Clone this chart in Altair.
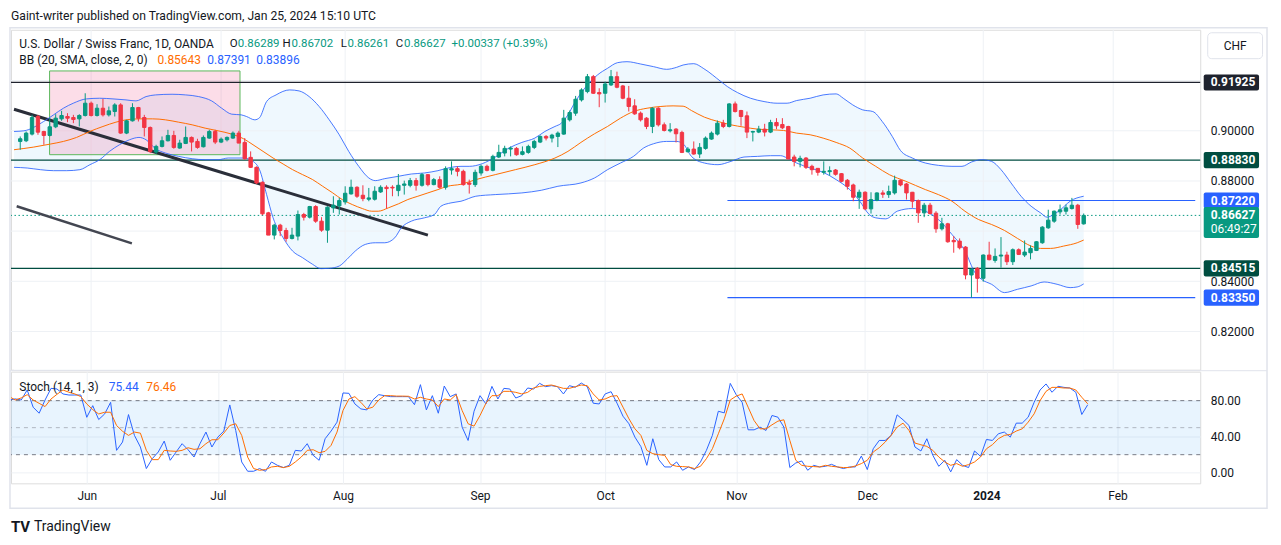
import altair as alt
import pandas as pd

# ------------------------------------------------------------------ data
# daily candles, bar 0 = 16 May 2023 ... bar 180 = 25 Jan 2024 (weekdays)
opens = [
    0.89575, 0.89601, 0.89866, 0.90568, 0.89972, 0.89813, 0.90157, 0.90475, 0.90568, 0.90528,
    0.90475, 0.90608, 0.91098, 0.90608, 0.90899, 0.90634, 0.90767, 0.91031, 0.89906, 0.90396,
    0.90925, 0.90528, 0.90131, 0.89151, 0.89376, 0.89601, 0.89813, 0.89310, 0.89495, 0.89734,
    0.89575, 0.89363, 0.89707, 0.89972, 0.89548, 0.89641, 0.89707, 0.89906, 0.89536, 0.88940,
    0.88542, 0.87946, 0.86728, 0.85841, 0.86238, 0.86026, 0.85708, 0.85801, 0.86662, 0.86556,
    0.86980, 0.86397, 0.86039, 0.86927, 0.87006, 0.87165, 0.87483, 0.87748, 0.87430, 0.87271,
    0.87271, 0.87562, 0.87748, 0.87748, 0.87615, 0.87827, 0.87827, 0.88013, 0.87827, 0.88251,
    0.87854, 0.88052, 0.87748, 0.88436, 0.88489, 0.88383, 0.87920, 0.87853, 0.88317, 0.88582,
    0.88423, 0.88953, 0.89112, 0.89270, 0.89297, 0.89059, 0.89138, 0.89337, 0.89549, 0.89774,
    0.89708, 0.89774, 0.89866, 0.90436, 0.90701, 0.91230, 0.91562, 0.92157, 0.91522, 0.91495,
    0.91826, 0.92157, 0.91787, 0.91297, 0.90992, 0.90701, 0.90502, 0.90171, 0.90899, 0.90237,
    0.89999, 0.90065, 0.89933, 0.89164, 0.89270, 0.89072, 0.89297, 0.89668, 0.89866, 0.90303,
    0.90171, 0.91071, 0.90807, 0.90595, 0.89946, 0.89946, 0.90065, 0.89946, 0.90330, 0.90250,
    0.90171, 0.88953, 0.88780, 0.88913, 0.88582, 0.88502, 0.88343, 0.88370, 0.88436, 0.88290,
    0.88026, 0.87840, 0.87350, 0.87549, 0.86887, 0.87231, 0.87522, 0.87456, 0.87522, 0.88026,
    0.87880, 0.87549, 0.87218, 0.86728, 0.87033, 0.86715, 0.86092, 0.86291, 0.85629, 0.85602,
    0.85364, 0.84252, 0.84517, 0.84119, 0.85046, 0.84834, 0.85006, 0.85046, 0.84781, 0.85258,
    0.85046, 0.85139, 0.85232, 0.85536, 0.86132, 0.86397, 0.86768, 0.86794, 0.86900, 0.87033,
    0.86289,
]
highs = [
    0.89773, 0.89972, 0.90634, 0.90634, 0.89998, 0.90502, 0.90661, 0.90793, 0.90700, 0.90634,
    0.90661, 0.91495, 0.91164, 0.91058, 0.91270, 0.90965, 0.91098, 0.91098, 0.90435, 0.91098,
    0.90952, 0.90634, 0.90171, 0.89442, 0.89773, 0.90038, 0.89998, 0.89641, 0.90171, 0.89773,
    0.89681, 0.89813, 0.90038, 0.90038, 0.89734, 0.89773, 0.89972, 0.89998, 0.89708, 0.89178,
    0.88582, 0.87986, 0.86768, 0.86291, 0.86291, 0.86132, 0.86132, 0.86821, 0.86728, 0.87006,
    0.87033, 0.86556, 0.86993, 0.87390, 0.87324, 0.87787, 0.88052, 0.87787, 0.87827, 0.87721,
    0.87787, 0.87827, 0.87827, 0.87827, 0.88277, 0.88013, 0.88119, 0.88119, 0.88317, 0.88277,
    0.88119, 0.88185, 0.88582, 0.88781, 0.88582, 0.88449, 0.88052, 0.88449, 0.88648, 0.88648,
    0.89045, 0.89443, 0.89403, 0.89376, 0.89350, 0.89376, 0.89443, 0.89641, 0.89814, 0.89827,
    0.89880, 0.89972, 0.90833, 0.90807, 0.91389, 0.91694, 0.92263, 0.92224, 0.91694, 0.91959,
    0.92422, 0.92356, 0.91826, 0.91787, 0.91257, 0.90767, 0.90542, 0.90939, 0.90939, 0.90330,
    0.90303, 0.90105, 0.90000, 0.89350, 0.89575, 0.89509, 0.89774, 0.89972, 0.90409, 0.90436,
    0.91098, 0.91164, 0.90833, 0.90767, 0.89999, 0.90197, 0.90277, 0.90436, 0.90502, 0.90502,
    0.90197, 0.89045, 0.89006, 0.88953, 0.88648, 0.88516, 0.88780, 0.88582, 0.88476, 0.88317,
    0.88078, 0.87893, 0.87655, 0.87588, 0.87549, 0.87549, 0.87628, 0.87814, 0.88211, 0.88052,
    0.87920, 0.87562, 0.87258, 0.87125, 0.87125, 0.86794, 0.86530, 0.86331, 0.85801, 0.85708,
    0.85404, 0.84517, 0.84570, 0.85073, 0.85576, 0.85311, 0.85761, 0.85179, 0.85311, 0.85311,
    0.85629, 0.85430, 0.85602, 0.86198, 0.86853, 0.86821, 0.87059, 0.87059, 0.87324, 0.87086,
    0.86702,
]
lows = [
    0.89244, 0.89548, 0.89813, 0.89840, 0.89442, 0.89773, 0.90104, 0.90396, 0.90343, 0.90303,
    0.90171, 0.90568, 0.90568, 0.90568, 0.90568, 0.90568, 0.90568, 0.89879, 0.89866, 0.90369,
    0.90369, 0.89773, 0.89111, 0.89071, 0.89336, 0.89575, 0.89283, 0.89283, 0.89469, 0.89177,
    0.89283, 0.89336, 0.89681, 0.89469, 0.89508, 0.89575, 0.89681, 0.89508, 0.88847, 0.88516,
    0.87880, 0.86635, 0.85841, 0.85669, 0.85801, 0.85576, 0.85669, 0.85629, 0.86423, 0.86503,
    0.86331, 0.85973, 0.85536, 0.86728, 0.86662, 0.87059, 0.87456, 0.87324, 0.87191, 0.87191,
    0.87218, 0.87523, 0.86900, 0.87390, 0.87390, 0.87456, 0.87748, 0.87615, 0.87774, 0.87787,
    0.87827, 0.87695, 0.87655, 0.88251, 0.88185, 0.87814, 0.87496, 0.87761, 0.88211, 0.88383,
    0.88383, 0.88913, 0.88979, 0.88979, 0.89006, 0.89019, 0.89085, 0.89270, 0.89509, 0.89615,
    0.89535, 0.89350, 0.89840, 0.90370, 0.90595, 0.91164, 0.91495, 0.91469, 0.90939, 0.91124,
    0.91787, 0.91694, 0.91257, 0.90767, 0.90635, 0.90370, 0.90065, 0.89906, 0.90171, 0.89972,
    0.89933, 0.89535, 0.89111, 0.89138, 0.89045, 0.88913, 0.89244, 0.89641, 0.89813, 0.90105,
    0.90131, 0.90727, 0.90197, 0.89707, 0.89575, 0.89906, 0.89774, 0.89906, 0.90065, 0.90065,
    0.88873, 0.88582, 0.88542, 0.88476, 0.88251, 0.88211, 0.88251, 0.88211, 0.88211, 0.87946,
    0.87655, 0.87191, 0.86887, 0.86834, 0.86701, 0.87191, 0.87324, 0.87324, 0.87456, 0.87787,
    0.87258, 0.86927, 0.86331, 0.86556, 0.86662, 0.85934, 0.86026, 0.85536, 0.85139, 0.85271,
    0.84079, 0.83351, 0.83550, 0.83987, 0.84834, 0.84742, 0.84543, 0.84649, 0.84649, 0.85046,
    0.84967, 0.84874, 0.85205, 0.85496, 0.86092, 0.86331, 0.86662, 0.86662, 0.86860, 0.86092,
    0.86261,
]
closes = [
    0.89681, 0.89906, 0.90528, 0.89945, 0.89813, 0.90157, 0.90502, 0.90608, 0.90502, 0.90449,
    0.90608, 0.91098, 0.90608, 0.90899, 0.90634, 0.90793, 0.91031, 0.89906, 0.90396, 0.90925,
    0.90502, 0.90131, 0.89177, 0.89376, 0.89601, 0.89813, 0.89336, 0.89508, 0.89734, 0.89548,
    0.89336, 0.89734, 0.89972, 0.89548, 0.89667, 0.89734, 0.89906, 0.89508, 0.88887, 0.88542,
    0.87920, 0.86688, 0.85841, 0.86238, 0.86026, 0.85708, 0.85841, 0.86662, 0.86556, 0.86980,
    0.86397, 0.86039, 0.86953, 0.87033, 0.87218, 0.87509, 0.87748, 0.87390, 0.87297, 0.87324,
    0.87589, 0.87748, 0.87695, 0.87721, 0.87827, 0.87880, 0.88013, 0.87827, 0.88251, 0.87854,
    0.88052, 0.87748, 0.88489, 0.88489, 0.88383, 0.87853, 0.87867, 0.88343, 0.88582, 0.88423,
    0.88979, 0.89138, 0.89297, 0.89310, 0.89045, 0.89165, 0.89376, 0.89575, 0.89774, 0.89708,
    0.89827, 0.89906, 0.90502, 0.90727, 0.91257, 0.91628, 0.92157, 0.91495, 0.91469, 0.91866,
    0.92157, 0.91734, 0.91297, 0.90966, 0.90674, 0.90436, 0.90171, 0.90899, 0.90237, 0.90012,
    0.90039, 0.89880, 0.89138, 0.89270, 0.89072, 0.89337, 0.89707, 0.89906, 0.90303, 0.90171,
    0.91071, 0.90767, 0.90568, 0.89946, 0.89972, 0.90065, 0.89946, 0.90330, 0.90197, 0.90118,
    0.88873, 0.88780, 0.88900, 0.88542, 0.88449, 0.88343, 0.88383, 0.88410, 0.88264, 0.87986,
    0.87787, 0.87350, 0.87549, 0.86887, 0.87257, 0.87522, 0.87469, 0.87575, 0.88026, 0.87840,
    0.87523, 0.87192, 0.86728, 0.87033, 0.86702, 0.86092, 0.86291, 0.85576, 0.85576, 0.85337,
    0.84252, 0.84477, 0.84119, 0.85046, 0.84861, 0.84993, 0.85046, 0.84781, 0.85258, 0.85073,
    0.85165, 0.85311, 0.85576, 0.86159, 0.86437, 0.86794, 0.86847, 0.86927, 0.87033, 0.86265,
    0.86627,
]

# Bollinger band (20, 2) lines at bar positions
bb_upper_at = [
    -1.05, 0.62, 3.96, 5.64, 7.31, 8.98, 11.2, 13.45, 15.7, 17.9,
    19.6, 21.3, 22.9, 25.7, 28.0, 30.2, 32.4, 34.1, 35.8, 37.4,
    38.3, 39.7, 40.5, 41.7, 43.3, 45.6, 47.2, 48.9, 50.6, 52.3,
    54.0, 55.6, 57.3, 59.0, 60.1, 61.7, 64.0, 66.2, 68.4, 70.7,
    72.9, 74.6, 76.0, 78.2, 80.4, 82.7, 84.9, 87.1, 88.8, 90.5,
    91.6, 92.7, 93.8, 94.9, 96.0, 97.7, 99.4, 101.1, 102.7, 105.0,
    107.2, 109.4, 111.1, 112.2, 114.0, 115.7, 118.6, 119.7, 121.4, 123.6,
    125.9, 128.1, 129.8, 131.4, 133.7, 135.9, 138.1, 139.3, 140.9, 142.6,
    144.3, 145.9, 147.6, 149.0, 151.0, 153.2, 155.4, 157.7, 159.4, 161.0,
    162.7, 164.4, 166.0, 167.7, 169.4, 171.1, 172.7, 173.8, 174.9, 176.1,
    177.7, 180.0,
]
bb_upper = [
    0.89972, 0.89998, 0.90369, 0.90634, 0.90899, 0.91098, 0.91270, 0.91296, 0.91270, 0.91230,
    0.91190, 0.91362, 0.91429, 0.91455, 0.91429, 0.91362, 0.91190, 0.90899, 0.90661, 0.90634,
    0.90568, 0.90436, 0.90520, 0.91164, 0.91429, 0.91628, 0.91588, 0.91363, 0.90966, 0.90436,
    0.89840, 0.89178, 0.88582, 0.88119, 0.88013, 0.88092, 0.88185, 0.88277, 0.88317, 0.88410,
    0.88542, 0.88582, 0.88582, 0.88688, 0.88953, 0.89310, 0.89535, 0.89708, 0.89972, 0.90171,
    0.90303, 0.90635, 0.91098, 0.91495, 0.91826, 0.92224, 0.92489, 0.92714, 0.92753, 0.92661,
    0.92555, 0.92449, 0.92528, 0.92621, 0.92674, 0.92475, 0.91959, 0.91760, 0.91522, 0.91297,
    0.91164, 0.91098, 0.91098, 0.91204, 0.91297, 0.91429, 0.91469, 0.91297, 0.91032, 0.90833,
    0.90767, 0.90370, 0.89774, 0.89210, 0.88913, 0.88715, 0.88622, 0.88582, 0.88582, 0.88754,
    0.88847, 0.88781, 0.88450, 0.87920, 0.87390, 0.86993, 0.86728, 0.86556, 0.86662, 0.86861,
    0.87192, 0.87391,
]
bb_mid_at = [
    -1.05, 2.29, 5.08, 7.31, 9.54, 11.77, 14.0, 16.2, 17.9, 20.1,
    22.4, 24.6, 26.8, 29.1, 31.3, 33.5, 35.8, 37.8, 39.4, 41.1,
    42.8, 44.5, 46.1, 47.8, 49.5, 51.2, 52.9, 54.5, 56.2, 57.9,
    59.5, 60.6, 62.3, 64.0, 65.6, 67.3, 69.0, 70.7, 72.3, 74.6,
    77.1, 80.4, 83.8, 87.1, 90.5, 92.7, 94.9, 97.2, 99.4, 101.6,
    103.8, 106.1, 108.3, 110.5, 112.2, 113.6, 115.8, 118.1, 120.3, 122.5,
    124.8, 127.0, 129.2, 131.4, 133.7, 135.9, 138.1, 140.4, 142.6, 144.8,
    147.1, 149.9, 153.2, 155.4, 157.7, 159.9, 162.2, 164.4, 166.6, 168.8,
    171.1, 172.7, 174.4, 176.6, 178.9, 180.0,
]
bb_mid = [
    0.89244, 0.89350, 0.89469, 0.89575, 0.89734, 0.89972, 0.90171, 0.90343, 0.90435, 0.90475,
    0.90475, 0.90435, 0.90343, 0.90237, 0.90104, 0.89998, 0.89866, 0.89681, 0.89443, 0.89178,
    0.88913, 0.88675, 0.88450, 0.88251, 0.88052, 0.87787, 0.87523, 0.87258, 0.87059, 0.86900,
    0.86794, 0.86794, 0.86927, 0.87086, 0.87258, 0.87390, 0.87523, 0.87655, 0.87787, 0.87867,
    0.88052, 0.88251, 0.88449, 0.88648, 0.88913, 0.89178, 0.89535, 0.89880, 0.90171, 0.90502,
    0.90767, 0.90899, 0.90966, 0.90992, 0.90979, 0.90807, 0.90542, 0.90370, 0.90237, 0.90144,
    0.90065, 0.90038, 0.90012, 0.89906, 0.89840, 0.89707, 0.89535, 0.89310, 0.88913, 0.88582,
    0.88251, 0.87986, 0.87655, 0.87456, 0.87192, 0.86794, 0.86463, 0.86265, 0.86026, 0.85708,
    0.85404, 0.85311, 0.85311, 0.85404, 0.85536, 0.85643,
]
bb_lower_at = [
    -1.05, 1.18, 3.41, 5.64, 7.87, 10.1, 11.8, 13.45, 15.1, 16.8,
    18.5, 20.1, 21.3, 22.9, 24.6, 26.8, 29.1, 31.3, 33.5, 35.2,
    37.8, 39.4, 40.5, 41.7, 42.8, 44.5, 46.1, 47.8, 49.5, 50.9,
    52.3, 54.0, 55.3, 56.7, 58.4, 60.1, 61.7, 63.4, 64.5, 66.2,
    68.4, 70.1, 71.2, 72.9, 74.6, 77.1, 80.4, 84.9, 88.2, 91.0,
    94.9, 97.2, 99.4, 101.6, 103.8, 105.5, 107.2, 109.4, 111.1, 112.2,
    113.6, 115.8, 118.1, 120.3, 122.5, 124.8, 127.0, 128.7, 129.8, 131.4,
    133.7, 135.9, 138.1, 140.4, 142.1, 143.7, 144.8, 146.5, 148.5, 151.0,
    153.2, 155.4, 157.7, 159.9, 161.6, 162.7, 164.4, 166.6, 168.8, 171.1,
    173.3, 175.5, 177.7, 178.9, 180.0,
]
bb_lower = [
    0.88542, 0.88515, 0.88449, 0.88409, 0.88409, 0.88449, 0.88648, 0.88846, 0.89177, 0.89442,
    0.89641, 0.89734, 0.89641, 0.89283, 0.89111, 0.88979, 0.88886, 0.88846, 0.88846, 0.88913,
    0.88913, 0.88781, 0.88450, 0.87456, 0.86529, 0.85735, 0.85205, 0.84940, 0.84675, 0.84503,
    0.84516, 0.84609, 0.84874, 0.85205, 0.85470, 0.85536, 0.85536, 0.85735, 0.86132, 0.86397,
    0.86529, 0.86662, 0.86993, 0.87125, 0.87191, 0.87390, 0.87456, 0.87522, 0.87628, 0.87787,
    0.87920, 0.88118, 0.88449, 0.88714, 0.88979, 0.89310, 0.89483, 0.89575, 0.89575, 0.89483,
    0.88979, 0.88714, 0.88648, 0.88780, 0.88953, 0.88979, 0.89006, 0.89006, 0.88913, 0.88714,
    0.88516, 0.88343, 0.88052, 0.87655, 0.87191, 0.86662, 0.86529, 0.86489, 0.86800, 0.86900,
    0.86794, 0.86463, 0.85867, 0.85205, 0.84344, 0.84079, 0.83881, 0.83550, 0.83682, 0.83815,
    0.83974, 0.83881, 0.83748, 0.83775, 0.83896,
]

# Stochastic (14, 1, 3): %K and %D for bars -1 ... 180
stoch_k = [
    80.7, 81.9, 80.7, 91.8, 72.7, 66.0, 80.7, 93.6, 92.9, 87.4,
    86.2, 86.2, 86.2, 61.5, 74.4, 59.0, 65.2, 78.1, 24.8, 34.0,
    64.5, 41.4, 28.5, 4.6, 15.6, 23.0, 35.1, 13.8, 23.0, 32.2,
    25.5, 17.4, 32.2, 45.1, 28.5, 39.5, 46.2, 75.2, 46.9, 11.9,
    1.6, 1.6, 4.6, 1.6, 11.9, 8.2, 5.7, 8.2, 24.8, 24.1,
    32.2, 19.3, 13.8, 37.7, 46.2, 56.1, 88.5, 88.1, 76.3, 70.8,
    69.7, 80.7, 86.6, 85.5, 84.4, 84.4, 84.4, 84.4, 75.5, 97.7,
    69.7, 85.5, 66.0, 96.2, 84.4, 87.4, 50.6, 35.8, 68.2, 85.5,
    76.3, 95.8, 81.8, 93.6, 92.9, 82.9, 85.5, 94.0, 92.9, 99.2,
    95.5, 96.6, 95.5, 87.4, 96.6, 94.8, 99.5, 95.5, 77.1, 76.3,
    87.4, 89.9, 77.1, 62.7, 54.3, 39.5, 29.0, 8.2, 37.7, 14.5,
    6.4, 6.4, 11.9, 2.7, 6.4, 3.5, 11.9, 24.8, 41.4, 68.2,
    66.4, 99.1, 86.6, 78.1, 47.6, 47.6, 50.6, 46.9, 63.5, 61.6,
    50.6, 5.7, 10.8, 13.0, 2.7, 8.2, 6.4, 7.1, 9.3, 6.4,
    4.6, 6.4, 6.4, 18.5, 3.5, 26.6, 35.8, 35.8, 41.4, 64.2,
    58.7, 52.4, 28.5, 24.1, 37.7, 19.3, 7.1, 13.8, 0.9, 14.5,
    8.2, 5.7, 24.1, 18.2, 36.9, 35.8, 43.2, 45.1, 39.5, 55.0,
    55.0, 61.6, 78.1, 91.8, 98.5, 89.3, 95.9, 94.7, 94.0, 89.3,
    64.6, 75.44,
]
stoch_d = [
    84.4, 80.7, 83.0, 86.6, 80.7, 77.0, 73.4, 81.8, 87.0, 91.8,
    89.3, 87.4, 84.4, 76.3, 70.0, 65.2, 67.1, 67.1, 52.4, 46.0,
    41.4, 45.1, 43.9, 24.8, 14.5, 14.5, 24.8, 24.1, 23.7, 24.8,
    27.7, 25.9, 26.6, 32.2, 36.6, 36.6, 44.0, 52.4, 54.3, 41.4,
    17.4, 4.6, 2.7, 3.5, 6.4, 7.1, 5.7, 7.1, 11.9, 17.4,
    24.8, 25.5, 22.2, 23.7, 30.3, 45.1, 69.0, 81.8, 84.4, 78.1,
    70.8, 72.7, 80.7, 85.5, 85.5, 85.0, 85.0, 84.8, 81.8, 83.7,
    81.8, 80.7, 73.4, 81.8, 80.7, 86.6, 69.0, 54.3, 51.7, 63.5,
    77.1, 85.5, 85.5, 90.3, 90.3, 89.2, 87.4, 89.2, 94.0, 95.8,
    96.6, 97.3, 95.5, 93.6, 93.6, 95.5, 97.3, 96.6, 87.4, 80.7,
    81.8, 84.8, 85.5, 72.7, 59.8, 48.7, 41.4, 24.8, 21.1, 20.0,
    19.3, 9.0, 7.1, 6.8, 6.4, 4.6, 7.1, 15.6, 26.6, 43.2,
    59.8, 80.7, 85.0, 87.4, 72.7, 57.9, 48.7, 48.7, 53.1, 57.2,
    58.7, 35.8, 13.8, 8.2, 7.1, 6.8, 6.4, 8.2, 7.1, 6.4,
    5.7, 5.7, 7.5, 10.1, 13.8, 23.0, 27.7, 34.0, 41.4, 50.6,
    55.0, 46.9, 32.9, 31.0, 29.2, 24.8, 17.4, 12.0, 8.2, 10.1,
    7.1, 9.0, 11.9, 17.4, 26.6, 31.1, 37.7, 41.4, 42.5, 46.2,
    48.7, 56.1, 65.3, 80.0, 90.3, 94.7, 94.7, 94.0, 94.0, 91.8,
    83.7, 76.46,
]

month_ticks = [12, 34, 55, 78, 99, 121, 143, 163, 185]
month_labels = ["Jun", "Jul", "Aug", "Sep", "Oct", "Nov", "Dec", "2024", "Feb"]
price_grid = [0.82, 0.84, 0.86, 0.88, 0.90, 0.92]
price_labels_shown = [0.82, 0.84, 0.88, 0.90]   # 0.86 / 0.92 sit under the price boxes
stoch_ticks = [0, 40, 80]

level_prices = [0.91925, 0.88830, 0.84515]
level_colors = ["#1e222d", "#004d40", "#004d40"]
ray_prices = [0.87220, 0.83350]
ray_start = 119.7
last_price = 0.86627
countdown = "06:49:27"

trend1_at = [-1.05, 69.0]
trend1_price = [0.90858, 0.85840]
trend2_at = [-0.6, 18.9]
trend2_price = [0.86992, 0.85511]
zone_at = [4.97, 37.2]
zone_price = [0.89046, 0.92384]

# ------------------------------------------------------------------ style
FONT = "Roboto"
TXT = "#131722"
GRID = "#eef1f5"
UP = "#089981"
DOWN = "#f23645"
BLUE = "#2962ff"
ORANGE = "#ff6d00"
W, H1, H2 = 1193, 341, 112
X_MAX = 198.88

xs = alt.Scale(domain=[-0.72, X_MAX], nice=False, zero=False)
ys = alt.Scale(domain=[0.80477, 0.94025], nice=False, zero=False)
ss = alt.Scale(domain=[-11.8, 112.1], nice=False, zero=False)

PRICE_AXIS = alt.Axis(
    values=price_labels_shown, format=".5f", orient="right", grid=False, ticks=False,
    tickSize=0, domain=False, labelPadding=10, labelFontSize=12, labelColor=TXT,
    labelFont=FONT, title=None, labelOverlap=False)
STOCH_AXIS = alt.Axis(
    values=stoch_ticks, format=".2f", orient="right", grid=True, gridColor=GRID,
    ticks=False, tickSize=0, domain=False, labelPadding=10, labelFontSize=12,
    labelColor=TXT, labelFont=FONT, title=None, labelOverlap=False)
label_expr = " : ".join(
    f"datum.value == {t} ? '{l}'" for t, l in zip(month_ticks, month_labels)) + " : ''"
TIME_AXIS = alt.Axis(
    values=month_ticks, labelExpr=label_expr, grid=True, gridColor=GRID,
    ticks=False, tickSize=0, domain=False, labelPadding=7, labelFontSize=12,
    labelColor=TXT, labelFont=FONT, title=None, labelOverlap=False,
    labelFlush=False, orient="bottom",
    labelFontWeight={"condition": {"test": "datum.value == 163", "value": "bold"},
                     "value": "normal"})


def XQ(f):
    return alt.X(f + ":Q", scale=xs, axis=None)


def YQ(f):
    return alt.Y(f + ":Q", scale=ys, axis=PRICE_AXIS)


def SX(f):
    return alt.X(f + ":Q", scale=xs, axis=TIME_AXIS)


def SQ(f):
    return alt.Y(f + ":Q", scale=ss, axis=STOCH_AXIS)


def one():
    return pd.DataFrame({"a": [0]})


def label(s, x, y, color=TXT, size=12, weight="normal", align="left"):
    return alt.Chart(pd.DataFrame({"t": [s]})).mark_text(
        align=align, baseline="middle", fontSize=size, fontWeight=weight,
        color=color, font=FONT
    ).encode(text="t:N", x=alt.value(x), y=alt.value(y))


# ------------------------------------------------------------------ main pane
candles = pd.DataFrame({"i": list(range(len(closes))), "o": opens, "h": highs,
                        "l": lows, "c": closes})
updown = alt.condition("datum.c >= datum.o", alt.value(UP), alt.value(DOWN))

up_df = pd.DataFrame({"i": bb_upper_at, "v": bb_upper})
mid_df = pd.DataFrame({"i": bb_mid_at, "v": bb_mid})
low_df = pd.DataFrame({"i": bb_lower_at, "v": bb_lower})

fill_up = alt.Chart(up_df).mark_area(color="#2196f3", opacity=0.07, clip=True,
                                     interpolate="monotone").encode(
    x=XQ("i"), y=YQ("v"), y2=alt.value(H1))
fill_low = alt.Chart(low_df).mark_area(color="white", opacity=1, clip=True,
                                       interpolate="monotone").encode(
    x=XQ("i"), y=YQ("v"), y2=alt.value(H1))

grid_h = alt.Chart(pd.DataFrame({"p": price_grid})).mark_rule(
    color=GRID, strokeWidth=1).encode(y=YQ("p"))
grid_v = alt.Chart(pd.DataFrame({"m": month_ticks})).mark_rule(
    color=GRID, strokeWidth=1).encode(x=XQ("m"))

zone = alt.Chart(pd.DataFrame({"x1": [zone_at[0]], "x2": [zone_at[1]],
                               "p1": [zone_price[0]], "p2": [zone_price[1]]})).mark_rect(
    fill="#e91e63", fillOpacity=0.15, stroke="#5cb85c", strokeWidth=1).encode(
    x=XQ("x1"), x2="x2:Q", y=YQ("p1"), y2="p2:Q")

levels = alt.Chart(pd.DataFrame({"p": level_prices, "c": level_colors})).mark_rule(
    strokeWidth=1.2).encode(y=YQ("p"), color=alt.Color("c:N", scale=None))
rays = alt.Chart(pd.DataFrame({"p": ray_prices, "x1": [ray_start] * len(ray_prices),
                               "x2": [X_MAX] * len(ray_prices)})).mark_rule(
    color=BLUE, strokeWidth=1.2).encode(x=XQ("x1"), x2="x2:Q", y=YQ("p"))
last_line = alt.Chart(pd.DataFrame({"p": [last_price]})).mark_rule(
    color=UP, strokeWidth=1, strokeDash=[1.5, 2.5]).encode(y=YQ("p"))

trend1 = alt.Chart(pd.DataFrame({"i": trend1_at, "p": trend1_price})).mark_line(
    color="#2a2e39", strokeWidth=3, clip=True).encode(x=XQ("i"), y=YQ("p"))
trend2 = alt.Chart(pd.DataFrame({"i": trend2_at, "p": trend2_price})).mark_line(
    color="#434651", strokeWidth=2.5, clip=True).encode(x=XQ("i"), y=YQ("p"))

bb_up_line = alt.Chart(up_df).mark_line(color=BLUE, strokeWidth=1, clip=True,
                                        interpolate="monotone", opacity=0.85).encode(
    x=XQ("i"), y=YQ("v"))
bb_low_line = alt.Chart(low_df).mark_line(color=BLUE, strokeWidth=1, clip=True,
                                          interpolate="monotone", opacity=0.85).encode(
    x=XQ("i"), y=YQ("v"))
bb_mid_line = alt.Chart(mid_df).mark_line(color=ORANGE, strokeWidth=1, clip=True,
                                          interpolate="monotone").encode(
    x=XQ("i"), y=YQ("v"))

wicks = alt.Chart(candles).mark_rule(strokeWidth=1, clip=True).encode(
    x=XQ("i"), y=YQ("l"), y2="h:Q", color=updown)
bodies = alt.Chart(candles).mark_bar(size=3.4, strokeWidth=1, clip=True).encode(
    x=XQ("i"), y=YQ("o"), y2="c:Q", fill=updown, stroke=updown)

box_df = pd.DataFrame({
    "p": [0.91925, 0.88830, 0.87220, 0.84515, 0.83350],
    "f": ["#1e222d", "#004d40", BLUE, "#004d40", BLUE],
})
boxes = alt.Chart(box_df).transform_calculate(
    top="datum.p + 0.0032", bot="datum.p - 0.0032").mark_rect(cornerRadius=2).encode(
    x=alt.value(1196.5), x2=alt.value(1252), y=YQ("top"), y2="bot:Q",
    fill=alt.Color("f:N", scale=None))
box_txt = alt.Chart(box_df).mark_text(align="left", baseline="middle", fontSize=12,
                                      fontWeight="bold", color="white", font=FONT).encode(
    x=alt.value(1203.5), y=YQ("p"), text=alt.Text("p:Q", format=".5f"))

last_df = pd.DataFrame({"p": [last_price], "cd": [countdown]})
last_box = alt.Chart(last_df).transform_calculate(
    top="datum.p + 0.0033", bot="datum.p - 0.0090").mark_rect(
    cornerRadius=2, color=UP).encode(
    x=alt.value(1196.5), x2=alt.value(1252), y=YQ("top"), y2="bot:Q")
last_txt = alt.Chart(last_df).mark_text(align="left", baseline="middle", fontSize=12,
                                        fontWeight="bold", color="white", font=FONT).encode(
    x=alt.value(1203.5), y=YQ("p"), text=alt.Text("p:Q", format=".5f"))
last_cd = alt.Chart(last_df).transform_calculate(
    q="datum.p - 0.0056").mark_text(align="left", baseline="middle", fontSize=12,
                                    color="white", font=FONT).encode(
    x=alt.value(1203.5), y=YQ("q"), text="cd:N")

chf_box = alt.Chart(one()).mark_rect(fill="white", stroke="#e0e3eb", strokeWidth=1,
                                      cornerRadius=4).encode(
    x=alt.value(1200.5), x2=alt.value(1255.5), y=alt.value(3), y2=alt.value(29))

frame = alt.Chart(one()).mark_rect(fill="transparent", stroke="#e0e3eb",
                                   strokeWidth=1.5).encode(
    x=alt.value(-1), x2=alt.value(1260), y=alt.value(-2), y2=alt.value(480))
pane_sep = alt.Chart(one()).mark_rule(color="#e0e3eb", strokeWidth=1).encode(
    x=alt.value(-1), x2=alt.value(1260), y=alt.value(342))

LS = 11.5  # size of the OHLC legend values
main_layers = [
    fill_up, fill_low, grid_h, grid_v, zone, levels, rays, last_line,
    trend1, trend2, bb_up_line, bb_low_line, bb_mid_line, wicks, bodies,
    boxes, box_txt, last_box, last_txt, last_cd, chf_box,
    label("CHF", 1228, 16, size=12, align="center"),
    label("Gaint-writer published on TradingView.com, Jan 25, 2024 15:10 UTC", 0, -14, size=12.2),
    label("U.S. Dollar / Swiss Franc, 1D, OANDA", 8.4, 14.3),
    label("O", 219.4, 14.3, size=LS), label("0.86289", 227.6, 14.3, color=UP, size=LS),
    label("H", 272.4, 14.3, size=LS), label("0.86702", 281.4, 14.3, color=UP, size=LS),
    label("L", 330.8, 14.3, size=LS), label("0.86261", 337.6, 14.3, color=UP, size=LS),
    label("C", 386.0, 14.3, size=LS), label("0.86627", 394.2, 14.3, color=UP, size=LS),
    label("+0.00337 (+0.39%)", 442.0, 14.3, color=UP, size=LS),
    label("BB (20, SMA, close, 2, 0)", 8.4, 30.7),
    label("0.85643", 147.0, 30.7, color=ORANGE),
    label("0.87391", 197.0, 30.7, color=BLUE),
    label("0.83896", 246.0, 30.7, color=BLUE),
    label("TV", 0, 499, size=15, weight="bold"),
    label("TradingView", 23, 499, size=14),
    frame, pane_sep,
]
main = alt.layer(*main_layers).properties(width=W, height=H1)

# ------------------------------------------------------------------ stochastic pane
stoch_df = pd.DataFrame({"i": list(range(-1, len(stoch_k) - 1)), "k": stoch_k, "d": stoch_d})

band = alt.Chart(pd.DataFrame({"a": [80], "b": [20]})).mark_rect(
    color="#2196f3", opacity=0.1).encode(
    x=alt.value(0), x2=alt.value(W), y=SQ("a"), y2="b:Q")
band_lines = alt.Chart(pd.DataFrame({"v": [80, 20]})).mark_rule(
    color="#787b86", strokeWidth=1, strokeDash=[4, 4]).encode(y=SQ("v"))
mid_line = alt.Chart(pd.DataFrame({"v": [50]})).mark_rule(
    color="#787b86", strokeWidth=1, strokeDash=[4, 4], opacity=0.5).encode(y=SQ("v"))

k_line = alt.Chart(stoch_df).mark_line(color=BLUE, strokeWidth=1, clip=True).encode(
    x=SX("i"), y=SQ("k"))
d_line = alt.Chart(stoch_df).mark_line(color=ORANGE, strokeWidth=1, clip=True).encode(
    x=SX("i"), y=SQ("d"))

stoch = alt.layer(
    band, band_lines, mid_line, k_line, d_line,
    label("Stoch (14, 1, 3)", 8.4, 15),
    label("75.44", 98, 15, color=BLUE),
    label("76.46", 135.7, 15, color=ORANGE),
).properties(width=W, height=H2)

chart = alt.vconcat(main, stoch, spacing=2, bounds="flush").properties(
    padding={"left": 0, "top": 0, "right": 4, "bottom": 4},
    background="white",
).configure_view(strokeWidth=0).configure(font=FONT)

chart.save("out.html", embed_options={"renderer": "svg", "actions": False})
